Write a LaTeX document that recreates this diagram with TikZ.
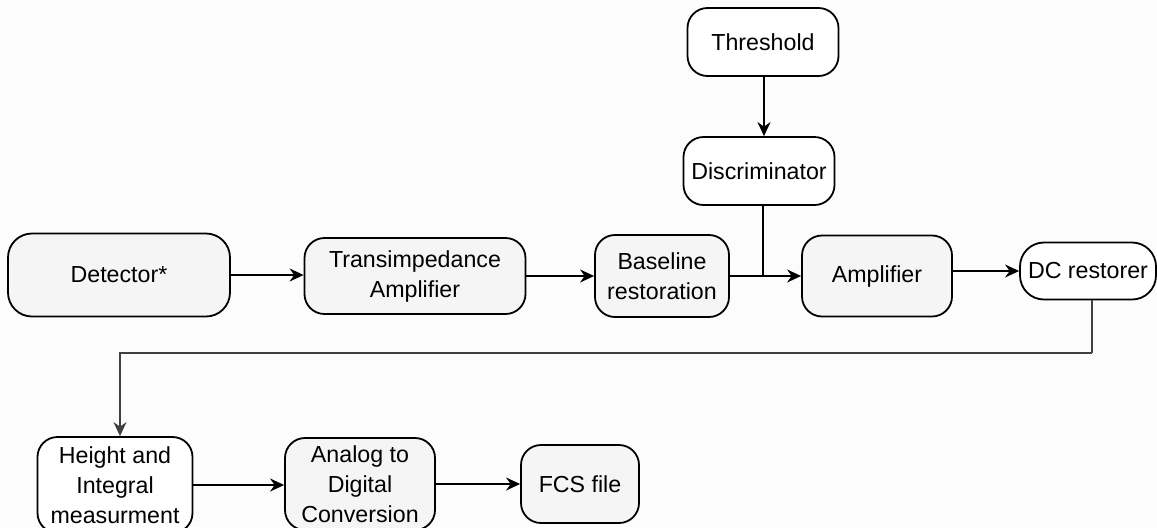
\documentclass[tikz,border=0pt]{standalone}
\usepackage{fontspec}
\setmainfont{Liberation Sans}
\usetikzlibrary{arrows.meta}
\usetikzlibrary{positioning}

\definecolor{boxgray}{HTML}{F5F5F5}
\definecolor{pagegray}{HTML}{FCFCFC}

\tikzset{
    block/.style={draw, line width=0.9pt, rounded corners=10pt, align=center,
        font=\fontsize{11.6}{15}\selectfont, inner sep=2pt},
    grayblock/.style={block, fill=boxgray},
    whiteblock/.style={block, fill=white},
    flow/.style={-{Stealth[length=7pt,width=6.5pt]}, line width=0.8pt}
}

\begin{document}
\begin{tikzpicture}[x=0.5pt,y=-0.5pt]
    % Fix the page size
    \useasboundingbox[fill=pagegray] (0,0) rectangle (1157,527);

    % Draw the top row
    \node[grayblock, rounded corners=12pt, minimum width=111pt, minimum height=41.5pt] (det) at (119,275) {Detector*};
    \node[grayblock, minimum width=110.5pt, minimum height=38pt] (tia) at (415,276) {Transimpedance\\Amplifier};
    \node[grayblock, minimum width=67pt, minimum height=41pt] (base) at (662,276) {Baseline\\restoration};
    \node[grayblock, minimum width=75pt, minimum height=40.5pt] (amp) at (877,276) {Amplifier};
    \node[whiteblock, rounded corners=12pt, minimum width=68pt, minimum height=28.5pt] (dc) at (1088,271) {DC restorer};

    % Draw the threshold branch
    \node[whiteblock, minimum width=75.5pt, minimum height=34pt] (thr) at (763,42) {Threshold};
    \node[whiteblock, minimum width=75.5pt, minimum height=34pt] (disc) at (759,171) {Discriminator};

    % Draw the bottom row
    \node[whiteblock, minimum width=77.5pt, minimum height=48pt] (hgt) at (115,485) {Height and\\Integral\\measurment};
    \node[grayblock, minimum width=75pt, minimum height=46pt] (adc) at (360,484) {Analog to\\Digital\\Conversion};
    \node[grayblock, minimum width=59pt, minimum height=39pt] (fcs) at (580,484) {FCS file};

    % Connect the blocks
    \draw[flow] (det.east) -- (det.east -| tia.west);
    \draw[flow] (tia.east) -- (tia.east -| base.west);
    \draw[flow] (base.east) -- (base.east -| amp.west);
    \draw[flow] (amp.east |- dc.west) -- (dc.west);
    \draw[flow] (thr.south -| 764,0) -- (disc.north -| 764,0);
    \draw[line width=0.8pt] (disc.south -| 763,0) -- (763,276);

    % Route the restorer output down to the second row
    \coordinate (turn) at (1092,353);
    \draw[line width=0.8pt, black!75] (dc.south -| turn) -- (turn);
    \draw[flow, black!75] (turn) -- (120,353) -- (hgt.north -| 120,0);

    \draw[flow] (hgt.east) -- (hgt.east -| adc.west);
    \draw[flow] (adc.east) -- (adc.east -| fcs.west);
\end{tikzpicture}
\end{document}
